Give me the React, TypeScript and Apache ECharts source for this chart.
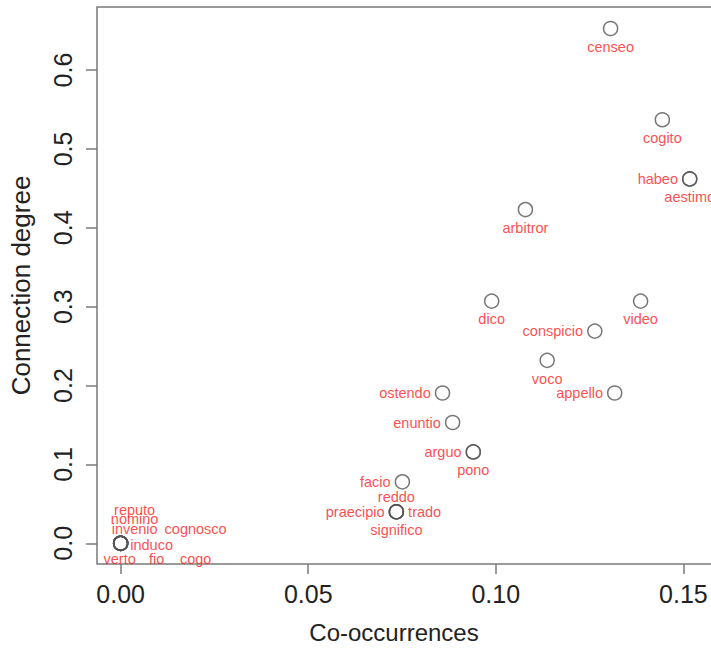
import React, { useEffect, useRef } from "react";
import * as echarts from "echarts";

const words = [
  "censeo", "cogito", "habeo", "aestimo", "arbitror", "dico", "video",
  "conspicio", "voco", "appello", "ostendo", "enuntio", "arguo", "pono",
  "facio", "reddo", "praecipio", "trado", "significo",
  "reputo", "nomino", "invenio", "cognosco", "induco", "verto", "fio", "cogo",
];
const coOccurrences = [
  0.1306, 0.1444, 0.1517, 0.1517, 0.1079, 0.0989, 0.1386,
  0.1264, 0.1137, 0.1317, 0.0858, 0.0885, 0.0940, 0.0940,
  0.0751, 0.0735, 0.0735, 0.0735, 0.0735,
  0, 0, 0, 0, 0, 0, 0, 0,
];
const connectionDegree = [
  0.6527, 0.5371, 0.4620, 0.4620, 0.4232, 0.3071, 0.3071,
  0.2691, 0.2320, 0.1906, 0.1906, 0.1532, 0.1159, 0.1159,
  0.0780, 0.0400, 0.0400, 0.0400, 0.0400,
  0, 0, 0, 0, 0, 0, 0, 0,
];
const xTicks = [0, 0.05, 0.1, 0.15];
const yTicks = [0, 0.1, 0.2, 0.3, 0.4, 0.5, 0.6];

// label placement (styling only)
const B = { position: "bottom", distance: 3 };
const L = { position: "left", distance: 4 };
const R = { position: "right", distance: 4 };
const T = { position: "top", distance: 0 };
const at = (dx: number, dy: number) => ({ position: "inside", offset: [dx, dy] });
const placements: any[] = [
  B, B, L, B, B, B, B,
  L, B, L, L, L, L, B,
  L, T, L, R, B,
  at(14, -33), at(14, -24), at(14, -14), at(75, -14), at(31, 2), at(-1, 16), at(36, 16), at(75, 16),
];

export default function App() {
  const ref = useRef<HTMLDivElement>(null);
  useEffect(() => {
    if (!ref.current) return;
    const chart = echarts.init(ref.current, null, { renderer: "svg" });
    const font = "'Liberation Sans', Arial, sans-serif";
    const data = words.map((w, i) => ({
      name: w,
      value: [coOccurrences[i], connectionDegree[i]],
      label: placements[i],
    }));
    chart.setOption({
      animation: false,
      backgroundColor: "#ffffff",
      grid: {
        left: 97, top: 7, width: 640, height: 557,
        show: true, borderColor: "#7a7a7a", borderWidth: 1.5, backgroundColor: "transparent",
      },
      xAxis: {
        type: "value",
        min: -0.0063, max: 0.1643,
        name: "Co-occurrences",
        nameLocation: "middle",
        nameGap: 56,
        nameTextStyle: { fontFamily: font, fontSize: 24, color: "#222", padding: [0, 46, 0, 0] },
        splitLine: { show: false },
        axisLine: { show: false, onZero: false },
        axisTick: { show: true, length: 10, lineStyle: { color: "#7a7a7a", width: 1.5 }, customValues: xTicks },
        axisLabel: {
          customValues: xTicks, margin: 17, fontFamily: font, fontSize: 25, color: "#222",
          formatter: (v: number) => v.toFixed(2),
        },
      },
      yAxis: {
        type: "value",
        min: -0.0262, max: 0.68,
        name: "Connection degree",
        nameLocation: "middle",
        nameGap: 63,
        nameRotate: 90,
        nameTextStyle: { fontFamily: font, fontSize: 26, color: "#222" },
        splitLine: { show: false },
        axisLine: { show: false, onZero: false },
        axisTick: { show: true, length: 11, lineStyle: { color: "#7a7a7a", width: 1.5 }, customValues: yTicks },
        axisLabel: {
          customValues: yTicks, margin: 22, rotate: 90, fontFamily: font, fontSize: 25, color: "#222",
          formatter: (v: number) => v.toFixed(1),
        },
      },
      series: [
        {
          type: "scatter",
          symbol: "circle",
          symbolSize: 14,
          itemStyle: { color: "rgba(255,255,255,0)", borderColor: "#555", borderWidth: 1.5 },
          label: {
            show: true,
            formatter: "{b}",
            color: "#ff2020",
            fontFamily: font,
            fontSize: 14.5,
          },
          data,
        },
      ],
    });
    return () => chart.dispose();
  }, []);
  return (
    <div style={{ position: "fixed", left: 0, top: 0, width: 711, height: 655, overflow: "hidden", background: "#fff" }}>
      <div ref={ref} style={{ width: 780, height: 655 }} />
    </div>
  );
}
